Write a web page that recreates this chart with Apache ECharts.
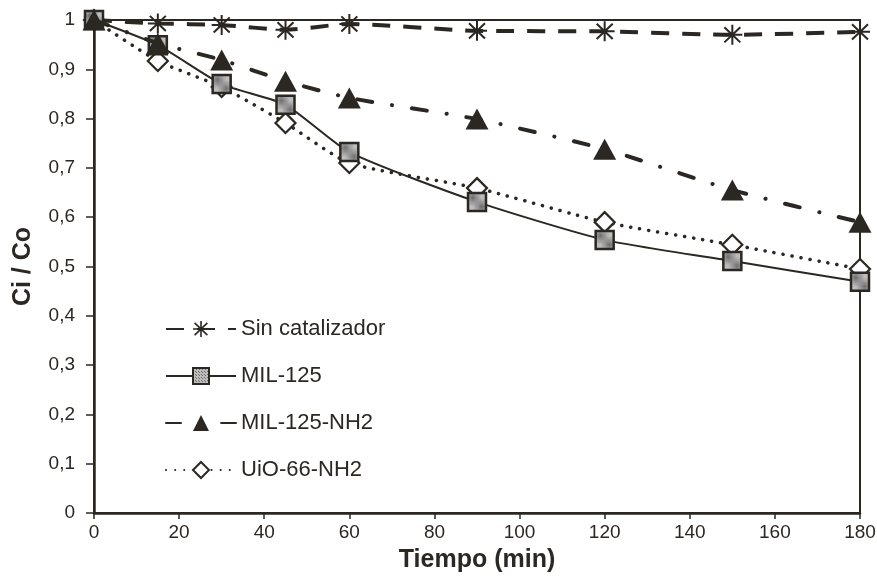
<!DOCTYPE html>
<html>
<head>
<meta charset="utf-8">
<script src="https://cdn.jsdelivr.net/npm/echarts@6/dist/echarts.min.js"></script>
<style>
  html, body { margin: 0; padding: 0; background: #fff; }
  #chart { width: 877px; height: 578px; }
</style>
</head>
<body>
<div id="chart"></div>
<script>
// Reaction time (min) and relative concentration Ci/Co per catalyst
const tiempo = [0, 15, 30, 45, 60, 90, 120, 150, 180];
const sinCatalizador = [1.0, 0.993, 0.990, 0.980, 0.992, 0.978, 0.977, 0.970, 0.976];
const mil125 = [1.0, 0.949, 0.870, 0.828, 0.732, 0.631, 0.554, 0.511, 0.469];
const mil125NH2 = [1.0, 0.953, 0.919, 0.876, 0.842, 0.799, 0.738, 0.655, 0.590];
const uio66NH2 = [1.0, 0.917, 0.864, 0.791, 0.710, 0.659, 0.590, 0.544, 0.495];
const seriesNames = ['Sin catalizador', 'MIL-125', 'MIL-125-NH2', 'UiO-66-NH2'];

const ink = '#2b2722';
const font = '"Liberation Sans", Arial, sans-serif';

// Stippled grey fill for the square markers
const dots = document.createElement('canvas');
dots.width = 3; dots.height = 3;
const dctx = dots.getContext('2d');
dctx.fillStyle = '#bdbdbd';
dctx.fillRect(0, 0, 3, 3);
dctx.fillStyle = '#6e6e6e';
dctx.fillRect(0, 0, 1, 1);
dctx.fillRect(2, 2, 1, 1);

// Asterisk marker built from crossing bars
const asterisk = 'path://M9,0 L11,0 L11,20 L9,20 Z ' +
  'M1.3,3.1 L2.7,1.7 L18.7,16.9 L17.3,18.3 Z ' +
  'M17.3,1.7 L18.7,3.1 L2.7,18.3 L1.3,16.9 Z ' +
  'M0,9 L20,9 L20,11 L0,11 Z';

function pairs(vals) { return tiempo.map((t, i) => [t, vals[i]]); }

const chart = echarts.init(document.getElementById('chart'));
chart.setOption({
  animation: false,
  backgroundColor: '#fff',
  grid: {
    left: 94, right: 17, top: 20, bottom: 65,
    outerBoundsMode: 'none', containLabel: false,
    show: true, borderColor: ink, borderWidth: 2, backgroundColor: 'transparent'
  },
  legend: {
    orient: 'vertical',
    left: 160, top: 313,
    itemWidth: 70, itemHeight: 20, itemGap: 25,
    textStyle: { fontFamily: font, fontSize: 22, color: ink },
    data: seriesNames
  },
  xAxis: {
    type: 'value', min: 0, max: 180, interval: 20,
    name: 'Tiempo (min)', nameLocation: 'middle', nameGap: 35,
    nameTextStyle: { fontFamily: font, fontSize: 25, fontWeight: 'bold', color: ink },
    axisLine: { show: true, lineStyle: { color: ink, width: 2.5 } },
    axisTick: { show: true, inside: false, length: 6, lineStyle: { color: ink, width: 1.5 } },
    axisLabel: { fontFamily: font, fontSize: 19, color: ink, margin: 10 },
    splitLine: { show: false }
  },
  yAxis: {
    type: 'value', min: 0, max: 1, interval: 0.1,
    name: 'Ci / Co', nameLocation: 'middle', nameGap: 58, nameRotate: 90,
    nameTextStyle: { fontFamily: font, fontSize: 25, fontWeight: 'bold', color: ink },
    axisLine: { show: true, lineStyle: { color: ink, width: 2.5 } },
    axisTick: { show: true, inside: false, length: 8, lineStyle: { color: ink, width: 1.5 } },
    axisLabel: {
      fontFamily: font, fontSize: 19, color: ink, margin: 19,
      formatter: v => String(Math.round(v * 10) / 10).replace('.', ',')
    },
    splitLine: { show: false }
  },
  series: [
    {
      name: seriesNames[0], type: 'line', clip: false, z: 3, smooth: 0.2,
      data: pairs(sinCatalizador),
      symbol: asterisk, symbolSize: 20,
      itemStyle: { color: ink },
      lineStyle: { color: ink, width: 4, type: [18, 13] }
    },
    {
      name: seriesNames[1], type: 'line', clip: false, z: 4, smooth: 0.2,
      data: pairs(mil125),
      symbol: 'rect', symbolSize: 18,
      itemStyle: { color: { image: dots, repeat: 'repeat' }, borderColor: ink, borderWidth: 2.5 },
      lineStyle: { color: ink, width: 2, type: 'solid' }
    },
    {
      name: seriesNames[2], type: 'line', clip: false, z: 5, smooth: 0.2,
      data: pairs(mil125NH2),
      symbol: 'triangle', symbolSize: [23, 21],
      itemStyle: { color: ink },
      lineStyle: { color: ink, width: 4, type: [15, 20, 0.1, 20], cap: 'round' }
    },
    {
      name: seriesNames[3], type: 'line', clip: false, z: 2, smooth: 0.2,
      data: pairs(uio66NH2),
      symbol: 'diamond', symbolSize: 20,
      itemStyle: { color: '#fff', borderColor: ink, borderWidth: 2.2 },
      lineStyle: { color: ink, width: 3.5, type: [0.1, 9], cap: 'round' }
    }
  ]
});
</script>
</body>
</html>
